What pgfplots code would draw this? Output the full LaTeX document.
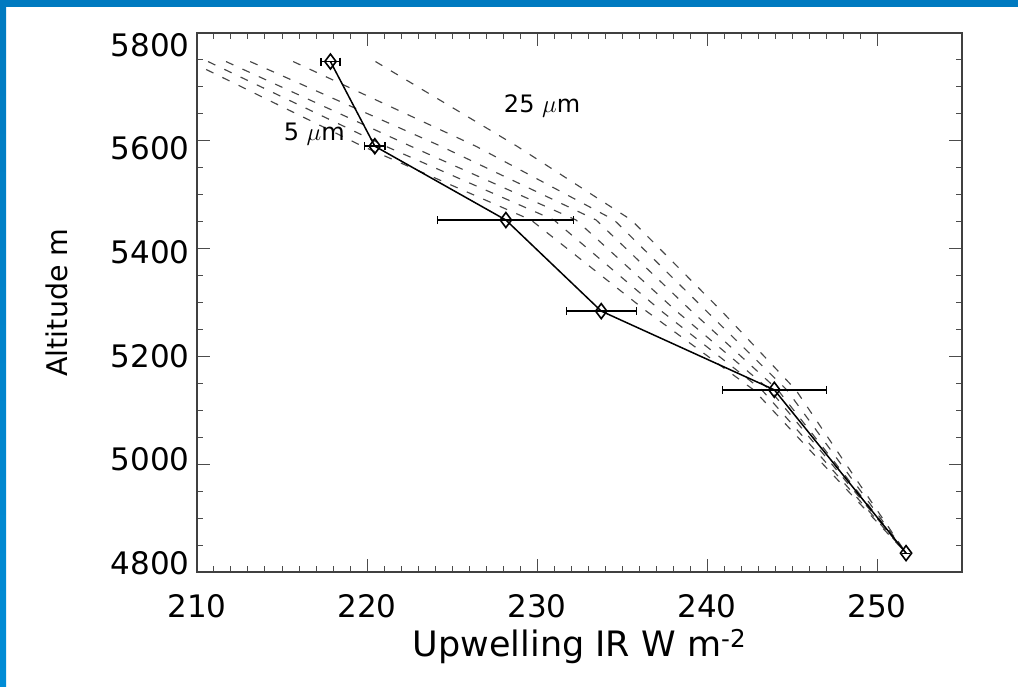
\documentclass[border=0pt]{standalone}
\usepackage{pgfplots}
\pgfplotsset{compat=1.18}
\usepackage{fontspec}
\setmainfont{DejaVu Sans}
\definecolor{frameblue}{RGB}{0,122,192}
\definecolor{frameblue2}{RGB}{0,140,214}
\begin{document}
\begin{tikzpicture}[x=1pt,y=1pt]
\useasboundingbox (0,0) rectangle (1018,686);
\fill[frameblue] (0,679) rectangle (1018,686);
\shade[top color=frameblue, bottom color=frameblue2] (0,0) rectangle (6,686);
\begin{axis}[
  scale only axis,
  width=765pt, height=539pt,
  at={(197pt,114pt)}, anchor=south west,
  xmin=210, xmax=255, ymin=4800, ymax=5800,
  xtick={210,220,...,250}, ytick={4800,5000,...,5800},
  minor x tick num=9, minor y tick num=3,
  tick align=inside,
  major tick length=13pt, minor tick length=6pt,
  axis line style={line width=1.3pt, black!75},
  every tick/.style={line width=1pt, black!70},
  /pgf/number format/assume math mode=true,
  /pgf/number format/set thousands separator={},
  ticklabel style={font=\fontsize{31}{31}\selectfont},
  yticklabel style={xshift=-4pt, yshift={9pt-4.2pt*\ticknum}},
  xticklabel style={yshift=-19pt},
  xlabel={Upwelling IR W m\textsuperscript{-2}},
  ylabel={Altitude m},
  xlabel style={font=\fontsize{35}{35}\selectfont, at={(axis description cs:0.5,0)}, anchor=center, yshift=-75pt},
  ylabel style={font=\fontsize{28.5}{28.5}\selectfont, at={(axis description cs:-0.183,0.5)}, anchor=center},
  clip=true,
]
% model curves (dashed)
\addplot[black!72, line width=1.15pt, dash pattern=on 8pt off 10pt] coordinates {(209.59,5747) (219.73,5590) (229.65,5453) (236.43,5284) (242.74,5138) (251.71,4835)};
\addplot[black!72, line width=1.15pt, dash pattern=on 8pt off 10pt] coordinates {(210.65,5747) (221.09,5590) (231.00,5453) (237.32,5284) (243.22,5138) (251.71,4835)};
\addplot[black!72, line width=1.15pt, dash pattern=on 8pt off 10pt] coordinates {(211.71,5747) (222.57,5590) (232.30,5453) (238.20,5284) (243.69,5138) (251.71,4835)};
\addplot[black!72, line width=1.15pt, dash pattern=on 8pt off 10pt] coordinates {(213.13,5747) (224.34,5590) (233.48,5453) (239.09,5284) (244.16,5138) (251.71,4835)};
\addplot[black!72, line width=1.15pt, dash pattern=on 8pt off 10pt] coordinates {(215.66,5747) (226.40,5590) (234.54,5453) (239.97,5284) (244.69,5138) (251.71,4835)};
\addplot[black!72, line width=1.15pt, dash pattern=on 8pt off 10pt] coordinates {(220.50,5747) (228.82,5590) (235.55,5453) (240.86,5284) (245.22,5138) (251.71,4835)};
% measurements
\addplot[black, line width=1.5pt, mark=diamond, mark size=7.5pt,
  mark options={solid, line width=1.6pt, fill=white},
  error bars/.cd, x dir=both, x explicit,
  error bar style={line width=1.4pt},
  error mark options={rotate=90, mark size=4pt, line width=1.2pt}]
  coordinates {
  (217.85,5747) +- (0.56,0)
  (220.46,5590) +- (0.60,0)
  (228.17,5453) +- (4.00,0)
  (233.78,5284) +- (2.06,0)
  (243.96,5138) +- (3.05,0)
  (251.71,4835) +- (0.00,0)
  };
\node[font=\fontsize{24}{24}\selectfont] at (axis cs:216.9,5613) {5 $\mu$m};
\node[font=\fontsize{24}{24}\selectfont] at (axis cs:230.3,5665) {25 $\mu$m};
\end{axis}
\end{tikzpicture}
\end{document}
